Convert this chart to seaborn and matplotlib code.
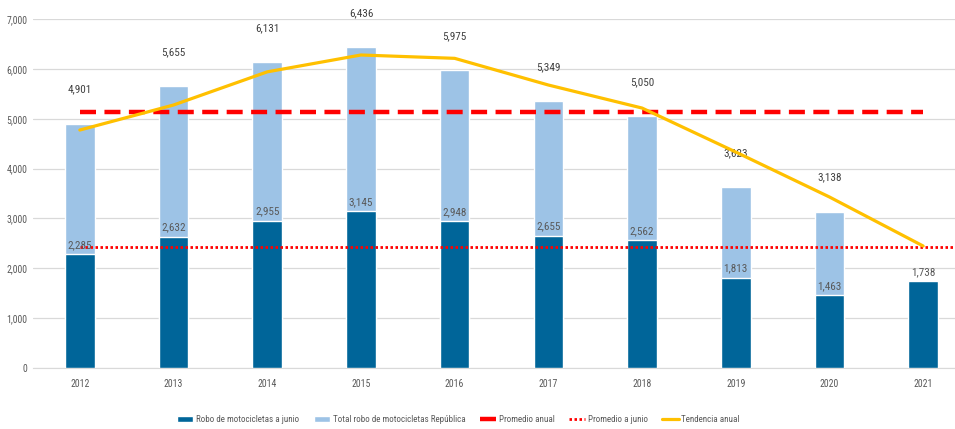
import matplotlib.pyplot as plt
import seaborn as sns
import pandas as pd
import numpy as np
from matplotlib.lines import Line2D
from matplotlib.patches import Patch

years = ['2012', '2013', '2014', '2015', '2016', '2017', '2018', '2019', '2020', '2021']
total_republica = [4901, 5655, 6131, 6436, 5975, 5349, 5050, 3623, 3138, np.nan]
robo_junio = [2285, 2632, 2955, 3145, 2948, 2655, 2562, 1813, 1463, 1738]
tendencia = [4773, 5275, 5940, 6278, 6211, 5676, 5214, 4332, 3430, 2447]

DARK = '#006599'
LIGHT = '#9DC3E6'
RED = '#FF0000'
YELLOW = '#FFC000'


def main():
    sns.set_style('white')
    plt.rcParams['font.family'] = ['Roboto Condensed', 'Liberation Sans Narrow',
                                   'Liberation Sans', 'DejaVu Sans']

    df = pd.DataFrame({'Año': years, 'Total': total_republica, 'Junio': robo_junio})
    prom_anual = np.nanmean(total_republica)
    prom_junio = np.mean(robo_junio)

    fig = plt.figure(figsize=(9.55, 4.29), dpi=100)
    ax = fig.add_axes([33 / 955, 61 / 429, 922 / 955, 349 / 429])

    sns.barplot(df, x='Año', y='Total', order=years, color=LIGHT, width=0.315,
                saturation=1, ax=ax, zorder=2)
    sns.barplot(df, x='Año', y='Junio', order=years, color=DARK, width=0.315,
                saturation=1, ax=ax, zorder=3)

    pos = np.arange(len(years))
    ax.plot([0, 9], [prom_anual, prom_anual], color=RED, lw=3.2,
            dashes=(3.6, 1.9), zorder=4)
    ax.plot([0, 9.5], [prom_junio, prom_junio], color=RED, lw=2,
            linestyle=(0, (0.9, 0.9)), zorder=4)
    ax.plot(pos, tendencia, color=YELLOW, lw=2.3, zorder=5)

    for i, v in enumerate(total_republica):
        if not np.isnan(v):
            ax.annotate(f'{int(v):,}', (i, v), xytext=(0, 21), textcoords='offset points',
                        ha='center', va='bottom', fontsize=8, color='#404040',
                        annotation_clip=False)
    for i, v in enumerate(robo_junio):
        ax.annotate(f'{v:,}', (i, v), xytext=(0, 3), textcoords='offset points',
                    ha='center', va='bottom', fontsize=8, color='#595959', zorder=6)

    ax.set_xlim(-0.5, 9.34)
    ax.set_ylim(0, 7000)
    ax.set_yticks(range(0, 7001, 1000))
    ax.yaxis.set_major_formatter(plt.FuncFormatter(lambda v, _: f'{int(v):,}'))
    ax.grid(axis='y', color='#D9D9D9', lw=0.9, zorder=0)
    ax.set_axisbelow(True)
    ax.set_xlabel(None)
    ax.set_ylabel(None)
    ax.tick_params(axis='both', labelsize=7, colors='#595959', length=0, pad=4)
    ax.tick_params(axis='x', pad=8)
    for s in ['top', 'right', 'left']:
        ax.spines[s].set_visible(False)
    ax.spines['bottom'].set_color('#D9D9D9')

    handles = [
        Patch(facecolor=DARK, label='Robo de motocicletas a junio'),
        Patch(facecolor=LIGHT, label='Total robo de motocicletas República'),
        Line2D([], [], color=RED, lw=3.2, dashes=(3.6, 1.9), label='Promedio anual'),
        Line2D([], [], color=RED, lw=2, linestyle=(0, (0.9, 0.9)), label='Promedio a junio'),
        Line2D([], [], color=YELLOW, lw=2.3, label='Tendencia anual'),
    ]
    fig.legend(handles=handles, loc='center', bbox_to_anchor=(0.48, 0.022), ncol=5,
               frameon=False, fontsize=6.5, labelcolor='#595959', handlelength=1.8,
               handleheight=0.6, handletextpad=0.3, columnspacing=1.6)

    fig.savefig('out.png', dpi=100)


if __name__ == '__main__':
    main()
